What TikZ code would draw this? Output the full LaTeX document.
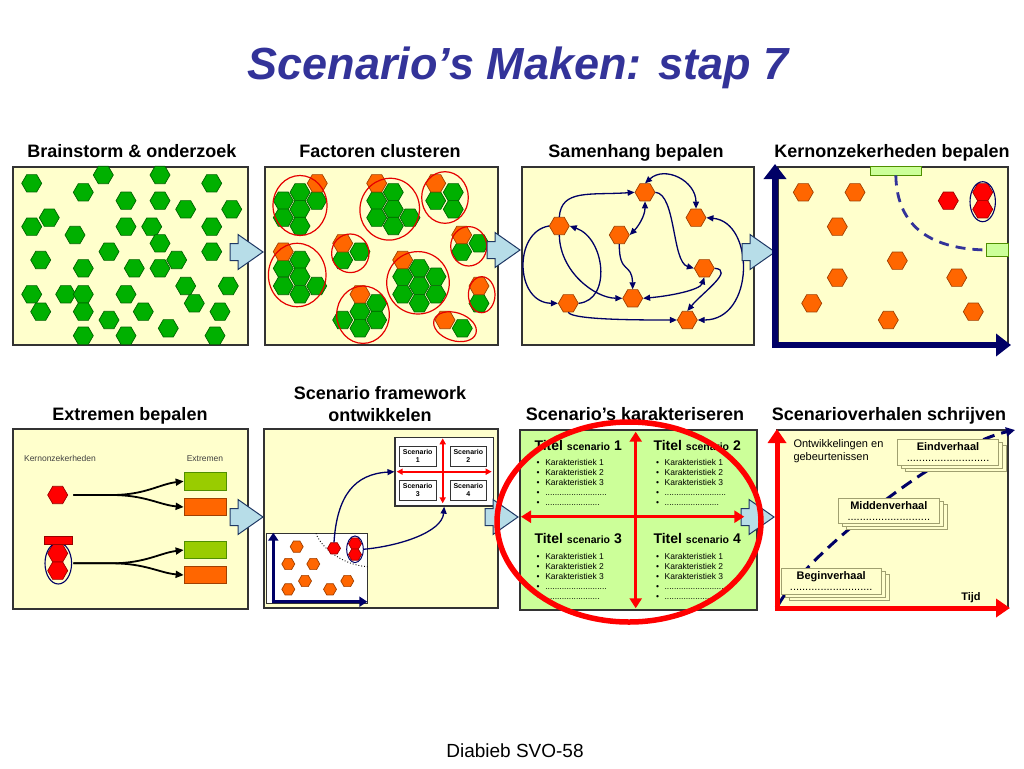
\documentclass[tikz,border=0pt]{standalone}
\usepackage{fontspec}
\setmainfont{Liberation Sans}
\usetikzlibrary{shapes.geometric,arrows.meta}
\definecolor{panelbg}{HTML}{FFFFCC}
\definecolor{hgreen}{HTML}{00B000}
\definecolor{hgreenB}{HTML}{006400}
\definecolor{horange}{HTML}{FF6600}
\definecolor{horangeB}{HTML}{A04000}
\definecolor{hred}{HTML}{FF0000}
\definecolor{hredB}{HTML}{990000}
\definecolor{navyc}{HTML}{000066}
\definecolor{titleblue}{HTML}{333399}
\definecolor{barrowfill}{HTML}{B7DDE8}
\definecolor{barrowdraw}{HTML}{1F3864}
\definecolor{lgreen}{HTML}{CCFF99}
\definecolor{ygreen}{HTML}{99CC00}
\definecolor{rectgreenB}{HTML}{4F8F00}
\definecolor{storyB}{HTML}{A0A070}
\newcommand{\kbul}{\makebox[8.6pt][l]{\textbullet}}
\newcommand{\kblist}{\kbul Karakteristiek 1\\\kbul Karakteristiek 2\\\kbul Karakteristiek 3\\\kbul ..........................\\\kbul .......................}
\newcommand{\tsc}[1]{{\fontsize{14}{14}\selectfont\bfseries Titel {\fontsize{10.5}{14}\selectfont scenario} #1}}
\tikzset{
 panel/.style={draw=black!80, line width=1.3, fill=panelbg},
 hexbase/.style={regular polygon, regular polygon sides=6, minimum size=20, inner sep=0, line width=0.7},
 hexg/.style={hexbase, fill=hgreen, draw=hgreenB},
 hexo/.style={hexbase, fill=horange, draw=horangeB},
 hexr/.style={hexbase, fill=hred, draw=hredB},
 smallhex/.style={minimum size=13},
 clus/.style={draw=red!90!black, line width=1.2},
 narr/.style={draw=navyc, line width=1.3, -{Triangle[length=7pt,width=6pt]}},
 nbarr/.style={draw=navyc, line width=1.3, {Triangle[length=7pt,width=6pt]}-{Triangle[length=7pt,width=6pt]}},
 blarr/.style={draw=black, line width=1.8, -{Triangle[length=8pt,width=7pt]}},
 ptitle/.style={anchor=base, font=\fontsize{18}{20}\selectfont\bfseries, inner sep=0},
 rectbox/.style={minimum width=42.7, minimum height=17.3, inner sep=0, line width=0.6},
 scbox/.style={draw=black!80, fill=white, line width=0.8, minimum width=36.7, minimum height=20, inner sep=0, align=center, font=\fontsize{7}{8}\selectfont\bfseries},
 storybox/.style={draw=storyB, fill=panelbg, line width=0.7, minimum width=100.6, minimum height=25.7, inner sep=0, align=center, font=\fontsize{11}{11}\selectfont},
 klist/.style={anchor=north west, align=left, inner sep=0, font=\fontsize{8.5}{10}\selectfont},
 barrow/.pic={\draw[fill=barrowfill, draw=barrowdraw, line width=1] (0,-8.5) -- (8,-8.5) -- (8,-17.5) -- (33,0) -- (8,17.5) -- (8,8.5) -- (0,8.5) -- cycle;},
}
\begin{document}
\begin{tikzpicture}[x=1pt,y=-1pt]
\useasboundingbox (0,0) rectangle (1024,768);
\fill[white] (0,0) rectangle (1024,768);
% title
\node[anchor=base, inner sep=0, text=titleblue, font=\fontsize{45}{54}\selectfont\bfseries\itshape] (title) at (518,79) {Scenario’s Maken: stap 7};
\node[anchor=base, inner sep=0, font=\fontsize{19}{22}\selectfont] (foot) at (515,757) {Diabieb SVO-58};
% panel titles
\node[ptitle] (t1) at (132,157) {Brainstorm \& onderzoek};
\node[ptitle] (t2) at (380,157) {Factoren clusteren};
\node[ptitle] (t3) at (636,157) {Samenhang bepalen};
\node[ptitle] (t4) at (892,157) {Kernonzekerheden bepalen};
\node[ptitle] (t5) at (130,420) {Extremen bepalen};
\node[ptitle] (t6a) at (380,399) {Scenario framework};
\node[ptitle] (t6b) at (380,421) {ontwikkelen};
\node[ptitle] (t7) at (635,420) {Scenario’s karakteriseren};
\node[ptitle] (t8) at (889,420) {Scenarioverhalen schrijven};
% panel backgrounds
\draw[panel] (13,167) rectangle (248,345);
\draw[panel] (265,167) rectangle (498,345);
\draw[panel] (522,167) rectangle (754,345);
\draw[panel] (778,167) rectangle (1008,345);
\draw[panel] (13,429) rectangle (248,609);
\draw[panel] (264,429) rectangle (498,608);
\draw[panel, fill=lgreen] (520,430) rectangle (757,610);
\draw[panel] (777,430) rectangle (1008,608);
% ---- panel 1
\foreach \px/\py [count=\i] in {31.7/183.3, 103.3/175, 160/175, 211.7/183.3, 83.3/192.3, 126/200.7, 160/200.7, 185.7/209.3, 231.7/209.3, 49.3/217.7, 31.7/226.7, 126/226.7, 151.7/226.7, 211.7/226.7, 75/235, 160/243.3, 109/251.7, 211.7/251.7, 40.7/260, 176.7/260, 83.3/268.3, 134.3/268.3, 160/268.3, 185.7/286, 228.3/286, 31.7/294.3, 65.7/294.3, 83.3/294.3, 126/294.3, 194.3/303.3, 40.7/311.7, 83.3/311.7, 143.3/311.7, 220/311.7, 109/320, 168.3/328.3, 83.3/335.7, 126/335.7, 215/335.7}
  \node[hexg] (a\i) at (\px,\py) {};
% ---- panel 2
\foreach \px/\py [count=\i] in {300/192.3, 283.3/200.7, 316.7/200.7, 300/209.3, 283.3/217.7, 300/226,
  393.3/192.3, 376.7/200.7, 393.3/209.3, 376.7/217.7, 410/217.7, 393.3/226,
  453.3/192.3, 435.7/200.7, 453.3/209.3,
  300/260, 283.3/268.3, 300/276.7, 283.3/286, 316.7/286, 300/294.3,
  360/251.7, 342.7/260,
  376.7/303.3, 360/311.7, 342.7/320, 376.7/320, 360/328.3,
  419.3/268.3, 402.7/276.7, 436/276.7, 419.3/286, 402.7/294.3, 436/294.3, 419.3/303.3,
  479/243.3, 461.7/251.7, 479/303.3, 462.3/328.3}
  \node[hexg] (bg\i) at (\px,\py) {};
\foreach \px/\py [count=\i] in {317.3/183.3, 376.7/183.3, 435.7/183.3, 283.3/251.7, 342.7/243.3, 360/294.3, 402.7/260, 461.7/235, 479/286, 445/320}
  \node[hexo] (bo\i) at (\px,\py) {};
\draw[clus] (300,205.5) ellipse [x radius=27, y radius=30];
\draw[clus, rotate around={-15:(389.7,209.2)}] (389.7,209.2) ellipse [x radius=29.7, y radius=31];
\draw[clus] (445,197.5) ellipse [x radius=23.3, y radius=25.8];
\draw[clus] (297.2,275) ellipse [x radius=28.8, y radius=31.7];
\draw[clus] (350.3,253.3) ellipse [x radius=18.7, y radius=19.3];
\draw[clus] (363,314.7) ellipse [x radius=26.3, y radius=28.7];
\draw[clus] (418,282.8) ellipse [x radius=31.3, y radius=31.2];
\draw[clus] (468.7,246.3) ellipse [x radius=18, y radius=19.7];
\draw[clus] (481.7,294.7) ellipse [x radius=13.3, y radius=18];
\draw[clus, rotate around={-18:(455,326.7)}] (455,326.7) ellipse [x radius=22, y radius=14];
% ---- panel 3
\node[hexo] (n1) at (645,192.3) {};
\node[hexo] (n2) at (696,217.7) {};
\node[hexo] (n3) at (559.3,226) {};
\node[hexo] (n4) at (619.3,235) {};
\node[hexo] (n5) at (704.3,268.3) {};
\node[hexo] (n6) at (568.3,303.3) {};
\node[hexo] (n7) at (632.7,298.3) {};
\node[hexo] (n8) at (687.3,320) {};
\draw[narr] (n3.north) .. controls +(2,-28) and +(-45,3) .. (n1.west);
\draw[nbarr] (n1.north) .. controls +(20,-18) and +(0,-28) .. (n2.north);
\draw[nbarr] (n1.south) .. controls +(0,15) and +(8,-8) .. (n4.east);
\draw[narr] (n1.east) .. controls (676,194) and (672,262) .. (n5.west);
\draw[narr] (n3.south) .. controls (560,272) and (595,298) .. (n7.west);
\draw[narr] (n6.east) .. controls (612,300) and (605,238) .. (n3.east);
\draw[narr] (n3.west) .. controls (513,232) and (515,303) .. (n6.west);
\draw[narr] (n4.south) .. controls (619,275) and (632,262) .. (n7.north);
\draw[nbarr] (n7.east) .. controls (670,296) and (700,290) .. (n5.south);
\draw[narr] (n6.south) .. controls (572,320) and (640,320) .. (n8.west);
\draw[narr] (n5.east) .. controls (735,270) and (702,293) .. (n8.north);
\draw[nbarr] (n2.east) .. controls (755,222) and (755,320) .. (n8.east);
% ---- panel 4
\node[draw=rectgreenB, fill=lgreen, minimum width=51.7, minimum height=8.3, inner sep=0, line width=0.8] (k1) at (895.8,170.9) {};
\node[draw=rectgreenB, fill=lgreen, minimum width=21.6, minimum height=13.4, inner sep=0, line width=0.8] (k2) at (997.5,250) {};
\draw[draw=titleblue, line width=2.8, dash pattern=on 10pt off 7pt] (k1.south) .. controls (897,230) and (935,249) .. (k2.west);
\foreach \px/\py [count=\i] in {803.3/192.3, 855/192.3, 837.3/226.7, 897.3/260.7, 837.3/277.7, 956.7/277.7, 811.7/303.3, 888.3/320, 973.3/311.7}
  \node[hexo] (ko\i) at (\px,\py) {};
\node[hexr] (kr1) at (948.3,200.7) {};
\node[hexr] (kr2) at (982.7,192.3) {};
\node[hexr] (kr3) at (982.7,209.3) {};
\draw[navyc, line width=1.1] (982.7,201.7) ellipse [x radius=12.7, y radius=20];
% ---- panel 5
\node[anchor=base, inner sep=0, font=\fontsize{8.5}{10}\selectfont, text=black!75] (ku) at (60,461) {Kernonzekerheden};
\node[anchor=base, inner sep=0, font=\fontsize{8.5}{10}\selectfont, text=black!75] (ex) at (205,461) {Extremen};
\node[hexr] (r1) at (57.7,495) {};
\coordinate (s1) at (73.3,495);
\node[rectbox, draw=rectgreenB, fill=ygreen] (g1) at (205.3,481.3) {};
\node[rectbox, draw=horangeB, fill=horange] (o1) at (205.3,507) {};
\draw[blarr] (s1) -- (112,495) .. controls (145,495) and (160,484) .. (g1.west);
\draw[blarr] (s1) -- (112,495) .. controls (145,495) and (160,505) .. (o1.west);
\node[hexr] (r2) at (57.7,553.3) {};
\node[hexr] (r3) at (57.7,570.7) {};
\draw[navyc, line width=1.1] (58.3,563.3) ellipse [x radius=13.3, y radius=20.7];
\node[fill=hred, draw=hredB, minimum width=28.4, minimum height=7.3, inner sep=0, line width=0.6] (bar) at (58.5,540.3) {};
\coordinate (s2) at (73.3,563.3);
\node[rectbox, draw=rectgreenB, fill=ygreen] (g2) at (205.3,550) {};
\node[rectbox, draw=horangeB, fill=horange] (o2) at (205.3,575) {};
\draw[blarr] (s2) -- (112,563.3) .. controls (145,563.3) and (160,553) .. (g2.west);
\draw[blarr] (s2) -- (112,563.3) .. controls (145,563.3) and (160,573) .. (o2.west);
% ---- panel 6
\node[draw=black!80, fill=white, line width=1.2, minimum width=98.3, minimum height=68.7, inner sep=0] (fw) at (444.2,471.7) {};
\node[scbox] (sc1) at (417.7,456) {Scenario\\1};
\node[scbox] (sc2) at (468.3,456) {Scenario\\2};
\node[scbox] (sc3) at (417.7,490) {Scenario\\3};
\node[scbox] (sc4) at (468.3,490) {Scenario\\4};
\coordinate (fwl) at (396.7,471.7);
\coordinate (fwr) at (491.7,471.7);
\coordinate (fwt) at (442.7,438.3);
\coordinate (fwb) at (442.7,503.3);
\draw[red, line width=2, {Triangle[length=6pt,width=6pt]}-{Triangle[length=6pt,width=6pt]}] (fwl) -- (fwr);
\draw[red, line width=2, {Triangle[length=6pt,width=6pt]}-{Triangle[length=6pt,width=6pt]}] (fwt) -- (fwb);
\draw[fill=white, draw=black!80, line width=1] (266.7,533.3) rectangle (367.3,603.3);
\draw[black, line width=0.9, dotted] (316,533.3) .. controls (321,548) and (343,565) .. (367.3,566.7);
\foreach \px/\py [count=\i] in {296.7/546.7, 288.3/564, 313.3/564, 305/581, 347.3/581, 288.3/589.3, 330/589.3}
  \node[hexo, smallhex] (fo\i) at (\px,\py) {};
\node[hexr, smallhex] (rs) at (334,548.3) {};
\node[hexr, smallhex] (rt1) at (355,543.6) {};
\node[hexr, smallhex] (rt2) at (355,554.6) {};
\draw[navyc, line width=1] (355,549.3) ellipse [x radius=8.3, y radius=13.3];
\coordinate (re) at (363.3,549.3);
\coordinate (ax6o) at (273.3,601.7);
\coordinate (ax6t) at (273.3,532.7);
\coordinate (ax6r) at (367.3,601.7);
\draw[navyc, line width=3.5, -{Triangle[length=8pt,width=10pt]}] ([yshift=-1.7pt]ax6o) -- (ax6t);
\draw[navyc, line width=3.5, -{Triangle[length=8pt,width=10pt]}] ([xshift=-1.7pt]ax6o) -- (ax6r);
\draw[narr] (rs.north) .. controls (337,495) and (355,474) .. (fw.west);
\draw[narr] (re) .. controls (400,546) and (442,532) .. (fw.south);
% ---- panel 7
\node[anchor=base west, inner sep=0] (q1t) at (534.3,450) {\tsc{1}};
\node[anchor=base west, inner sep=0] (q2t) at (653.3,450) {\tsc{2}};
\node[anchor=base west, inner sep=0] (q3t) at (534.3,543.5) {\tsc{3}};
\node[anchor=base west, inner sep=0] (q4t) at (653.3,543.5) {\tsc{4}};
\node[klist] (q1l) at (536.5,459.3) {\kblist};
\node[klist] (q2l) at (655.8,459.3) {\kblist};
\node[klist] (q3l) at (536.5,552.8) {\kblist};
\node[klist] (q4l) at (655.8,552.8) {\kblist};
% ---- panel 8
\node[anchor=north west, align=left, inner sep=0, font=\fontsize{11}{12.7}\selectfont] (ontw) at (793.3,439.3) {Ontwikkelingen en\\gebeurtenissen};
\node[anchor=base, inner sep=0, font=\fontsize{11}{12}\selectfont\bfseries] (tijd) at (971,600) {Tijd};
\coordinate (dl0) at (778.3,605);
\coordinate (dl1) at (1015,430);
\draw[navyc, line width=3, dash pattern=on 12pt off 7pt, -{Triangle[length=9pt,width=9pt]}] (dl0) .. controls (805,555) and (945,445) .. (dl1);
\coordinate (ec) at (948,452.2);
\node[storybox] (eb2) at ([shift={(8,6)}]ec) {};
\node[storybox] (eb1) at ([shift={(4,3)}]ec) {};
\node[storybox] (eind) at (ec) {\textbf{Eindverhaal}\\...........................};
\coordinate (mc) at (888.8,510.8);
\node[storybox] (mb2) at ([shift={(8,6)}]mc) {};
\node[storybox] (mb1) at ([shift={(4,3)}]mc) {};
\node[storybox] (midden) at (mc) {\textbf{Middenverhaal}\\...........................};
\coordinate (bc) at (831.2,581.2);
\node[storybox] (bb2) at ([shift={(8,6)}]bc) {};
\node[storybox] (bb1) at ([shift={(4,3)}]bc) {};
\node[storybox] (begin) at (bc) {\textbf{Beginverhaal}\\...........................};
% ---- block arrows
\pic at (230,252) {barrow};
\pic at (487,250) {barrow};
\pic at (742,252) {barrow};
\pic at (230,517) {barrow};
\pic at (485,517) {barrow};
\pic at (741,517) {barrow};
% ---- axes panel 4
\coordinate (ax4o) at (775,345);
\coordinate (ax4t) at (775,164);
\coordinate (ax4r) at (1011,345);
\draw[navyc, line width=6, -{Triangle[length=15pt,width=22pt]}] ([yshift=-3pt]ax4o) -- (ax4t);
\draw[navyc, line width=6, -{Triangle[length=15pt,width=22pt]}] ([xshift=-3pt]ax4o) -- (ax4r);
% ---- axes panel 8
\coordinate (ax8o) at (777,608);
\coordinate (ax8t) at (777,429);
\coordinate (ax8r) at (1010,608);
\draw[red, line width=5, -{Triangle[length=14pt,width=18pt]}] ([yshift=-2.5pt]ax8o) -- (ax8t);
\draw[red, line width=5, -{Triangle[length=14pt,width=18pt]}] ([xshift=-2.5pt]ax8o) -- (ax8r);
% ---- panel 7 cross
\coordinate (cl) at (521,516.7);
\coordinate (cr) at (744.3,516.7);
\coordinate (ct) at (635.7,431.7);
\coordinate (cb) at (635.7,608.3);
\draw[red, line width=3.5, {Triangle[length=10pt,width=12pt]}-{Triangle[length=10pt,width=12pt]}] (cl) -- (cr);
\draw[red, line width=3.5, {Triangle[length=10pt,width=12pt]}-{Triangle[length=10pt,width=12pt]}] (ct) -- (cb);
% ---- big red ellipse
\draw[red, line width=5.5] (629,522) ellipse [x radius=132, y radius=100];
\end{tikzpicture}
\end{document}
